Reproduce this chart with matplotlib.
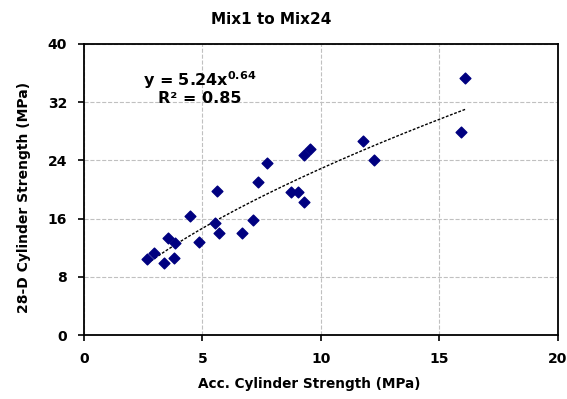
import matplotlib.pyplot as plt
import numpy as np
from matplotlib import rcParams

rcParams['font.family'] = ['DejaVu Sans']
rcParams['font.weight'] = 'bold'
rcParams['mathtext.fontset'] = 'dejavusans'

# data
acc = [2.68, 2.94, 3.40, 3.53, 3.78, 3.84, 4.46, 4.87, 5.55, 5.62, 5.72, 6.65,
       7.12, 7.36, 7.71, 8.73, 9.02, 9.29, 9.29, 9.55, 11.77, 12.23, 15.9, 16.1]
d28 = [10.45, 11.3, 9.86, 13.4, 10.6, 12.6, 16.3, 12.75, 15.45, 19.8, 14.0, 14.0,
       15.8, 21.1, 23.7, 19.7, 19.7, 18.25, 24.7, 25.5, 26.6, 24.1, 27.9, 35.3]

# power trendline y = a x^b
a, b = 5.24, 0.64

fig = plt.figure(figsize=(5.67, 3.99), dpi=100)
ax = fig.add_axes([0.148, 0.160, 0.836, 0.730])

ax.scatter(acc, d28, marker='D', s=30, color='#000080', zorder=3)

xs = np.linspace(min(acc), max(acc), 200)
ax.plot(xs, a * xs ** b, linestyle=(0, (2, 1.2)), color='black', linewidth=1, zorder=2)

ax.text(4.9, 35.0, r'y = 5.24x$^{\mathbf{0.64}}$', ha='center', va='center', fontsize=11.5, fontweight='bold')
ax.text(4.9, 32.5, 'R² = 0.85', ha='center', va='center', fontsize=11.5, fontweight='bold')

ax.set_xlim(0, 20)
ax.set_ylim(0, 40)
ax.set_xticks([0, 5, 10, 15, 20])
ax.set_yticks([0, 8, 16, 24, 32, 40])
ax.grid(True, linestyle='--', color='#c0c0c0', linewidth=0.8)
ax.set_axisbelow(True)

for s in ax.spines.values():
    s.set_linewidth(1.3)
ax.tick_params(direction='out', length=4, width=1.2, labelsize=10, pad=8)
for lab in ax.get_xticklabels() + ax.get_yticklabels():
    lab.set_fontweight('bold')

fig.text(271 / 567, 1 - 19 / 399, 'Mix1 to Mix24', ha='center', va='center', fontsize=11, fontweight='bold')
ax.set_xlabel('Acc. Cylinder Strength (MPa)', fontsize=9.8, fontweight='bold')
ax.set_ylabel('28-D Cylinder Strength (MPa)', fontsize=10, fontweight='bold')
ax.xaxis.set_label_coords(0.475, -0.142)
ax.yaxis.set_label_coords(-0.112, 0.4725)

plt.savefig('out.png', dpi=100)
